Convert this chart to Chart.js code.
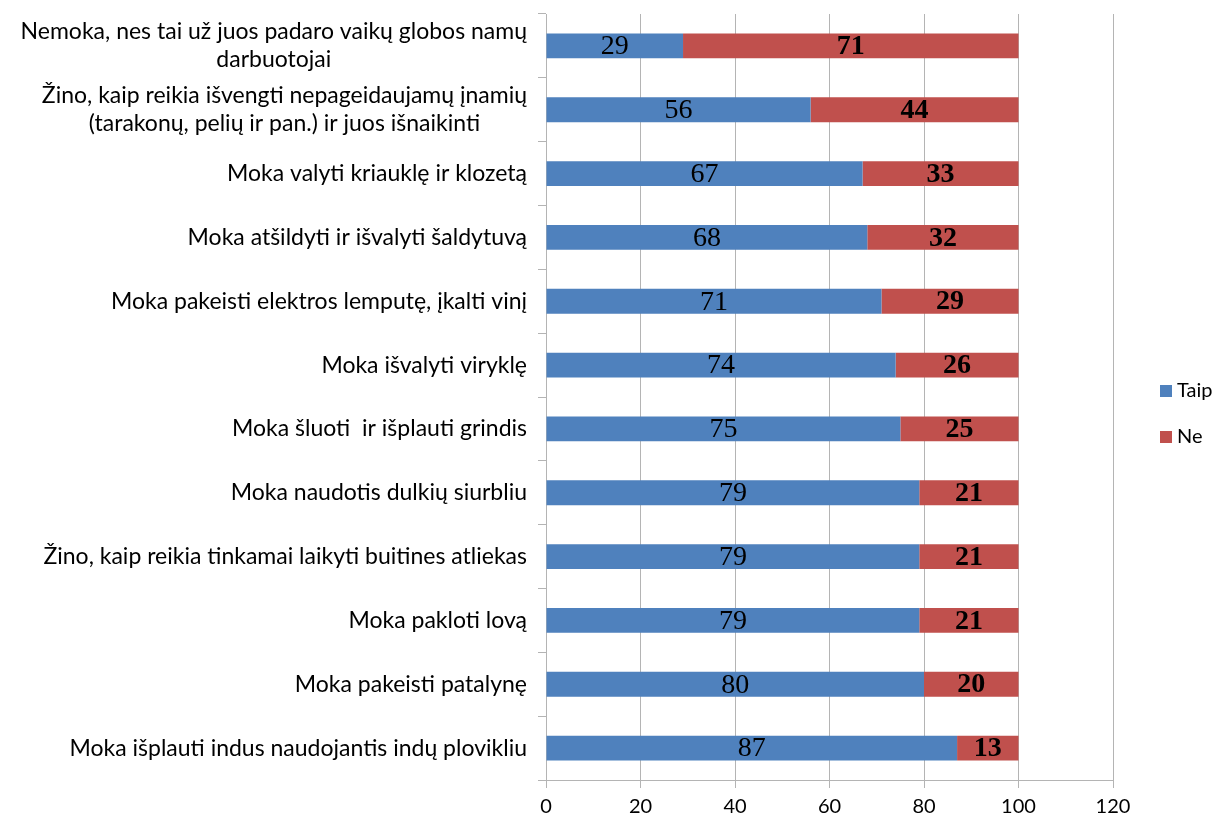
<!DOCTYPE html>
<html>
<head>
<meta charset="utf-8">
<script src="https://cdn.jsdelivr.net/npm/chart.js@4"></script>
<style>
  html, body { margin: 0; padding: 0; background: #fff; }
  #wrap { width: 1225px; height: 821px; }
</style>
</head>
<body>
<div id="wrap"><canvas id="chart" width="1225" height="821"></canvas></div>
<script>
const categories = [
  ['Nemoka, nes tai už juos padaro vaikų globos namų', 'darbuotojai'],
  ['Žino, kaip reikia išvengti nepageidaujamų įnamių', '(tarakonų, pelių ir pan.) ir juos išnaikinti'],
  'Moka valyti kriauklę ir klozetą',
  'Moka atšildyti ir išvalyti šaldytuvą',
  'Moka pakeisti elektros lemputę, įkalti vinį',
  'Moka išvalyti viryklę',
  'Moka šluoti  ir išplauti grindis',
  'Moka naudotis dulkių siurbliu',
  'Žino, kaip reikia tinkamai laikyti buitines atliekas',
  'Moka pakloti lovą',
  'Moka pakeisti patalynę',
  'Moka išplauti indus naudojantis indų plovikliu'
];
const taip = [29, 56, 67, 68, 71, 74, 75, 79, 79, 79, 80, 87];
const ne = [71, 44, 33, 32, 29, 26, 25, 21, 21, 21, 20, 13];
const xTicks = [0, 20, 40, 60, 80, 100, 120];

const barLabels = {
  id: 'barLabels',
  afterDatasetsDraw(chart) {
    const ctx = chart.ctx;
    ctx.save();
    ctx.fillStyle = '#000';
    ctx.textAlign = 'center';
    ctx.textBaseline = 'middle';
    chart.data.datasets.forEach((ds, di) => {
      ctx.font = (di === 1 ? 'bold ' : '') + '28px "Liberation Serif"';
      chart.getDatasetMeta(di).data.forEach((bar, i) => {
        const p = bar.getProps(['x', 'y', 'base'], true);
        ctx.fillText(String(ds.data[i]), (p.x + p.base) / 2, p.y + 1);
      });
    });
    ctx.restore();
  }
};

// category labels: block right-aligned to the axis, lines centred within the block
const yLabels = {
  id: 'yLabels',
  afterDraw(chart) {
    const ctx = chart.ctx;
    const scale = chart.scales.y;
    const right = scale.right - 19;
    const lh = 28;
    ctx.save();
    ctx.font = '23px Lato';
    ctx.fillStyle = '#000';
    ctx.textBaseline = 'middle';
    ctx.textAlign = 'center';
    chart.data.labels.forEach((lab, i) => {
      const lines = Array.isArray(lab) ? lab : [lab];
      const w = Math.max(...lines.map(l => ctx.measureText(l).width));
      const cx = right - w / 2;
      const y0 = scale.getPixelForTick(i) - (lines.length - 1) * lh / 2;
      lines.forEach((l, k) => ctx.fillText(l, cx, y0 + k * lh));
    });
    ctx.restore();
  }
};

const sideLegend = {
  id: 'sideLegend',
  afterDraw(chart) {
    const ctx = chart.ctx;
    ctx.save();
    ctx.font = '20px Lato';
    ctx.textBaseline = 'middle';
    ctx.textAlign = 'left';
    chart.data.datasets.forEach((ds, i) => {
      const y = 391 + i * 46;
      ctx.fillStyle = ds.backgroundColor;
      ctx.fillRect(1160, y - 6, 12, 12);
      ctx.fillStyle = '#000';
      ctx.fillText(ds.label, 1177, y);
    });
    ctx.restore();
  }
};

new Chart(document.getElementById('chart'), {
  type: 'bar',
  data: {
    labels: categories,
    datasets: [
      { label: 'Taip', data: taip, backgroundColor: '#4F81BD' },
      { label: 'Ne', data: ne, backgroundColor: '#C0504D' }
    ]
  },
  options: {
    indexAxis: 'y',
    responsive: false,
    animation: false,
    layout: { padding: { top: 14, right: 112, bottom: 0, left: 0 } },
    plugins: { legend: { display: false }, tooltip: { enabled: false } },
    datasets: { bar: { barPercentage: 0.39, categoryPercentage: 1 } },
    scales: {
      x: {
        stacked: true,
        min: 0, max: 120,
        afterBuildTicks(scale) { scale.ticks = xTicks.map(v => ({ value: v })); },
        afterFit(scale) { scale.height = 41; scale.paddingLeft = 0; scale.paddingRight = 0; },
        grid: { color: '#b4b4b4', lineWidth: 1, tickLength: 8, drawTicks: true },
        border: { display: true, color: '#b4b4b4' },
        ticks: { color: '#000', font: { family: 'Lato', size: 20 }, padding: 7 }
      },
      y: {
        stacked: true,
        afterFit(scale) { scale.width = 546; scale.paddingTop = 0; scale.paddingBottom = 0; },
        grid: { drawOnChartArea: false, color: '#b4b4b4', tickLength: 8, offset: true },
        border: { display: true, color: '#b4b4b4' },
        ticks: { display: false }
      }
    }
  },
  plugins: [barLabels, yLabels, sideLegend]
});
</script>
</body>
</html>
